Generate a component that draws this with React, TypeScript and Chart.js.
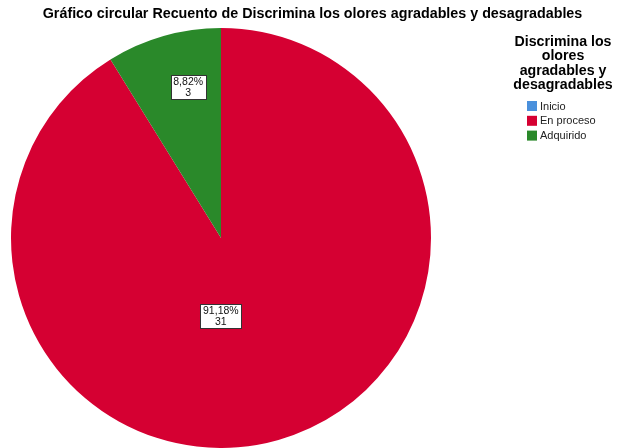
import React, { useEffect, useRef } from "react";
import { Chart, registerables } from "chart.js";

Chart.register(...registerables);

const TITLE = "Gráfico circular Recuento de Discrimina los olores agradables y desagradables";
const LEGEND_TITLE = ["Discrimina los", "olores", "agradables y", "desagradables"];
const categories = ["Inicio", "En proceso", "Adquirido"];
const counts = [0, 31, 3];
const colors = ["#4A90DC", "#D50032", "#2A892A"];
const labelRadiusFrac = [0.5, 0.37, 0.735];
const labelAngleShiftDeg = [0, 16, 3.6];

const FONT = "'Liberation Sans', Arial, sans-serif";

const overlayPlugin = {
  id: "overlay",
  afterDraw(chart: any) {
    const ctx = chart.ctx as CanvasRenderingContext2D;
    ctx.save();
    // Title
    ctx.fillStyle = "#000";
    ctx.font = `bold 14.3px ${FONT}`;
    ctx.textAlign = "center";
    ctx.textBaseline = "middle";
    ctx.fillText(TITLE, 312.5, 14);

    // Legend title
    ctx.font = `bold 14.2px ${FONT}`;
    LEGEND_TITLE.forEach((t, i) => ctx.fillText(t, 563, 42 + i * 14.5));

    // Legend items
    ctx.font = `11px ${FONT}`;
    ctx.textAlign = "left";
    categories.forEach((c, i) => {
      const y = 106 + i * 14.8;
      ctx.fillStyle = colors[i];
      ctx.fillRect(527, y - 5, 10, 10);
      ctx.fillStyle = "#222";
      ctx.fillText(c, 540, y + 0.5);
    });

    // Data labels
    const meta = chart.getDatasetMeta(0);
    const total = counts.reduce((a, b) => a + b, 0);
    meta.data.forEach((arc: any, i: number) => {
      if (!counts[i]) return;
      const p = arc.getProps(["x", "y", "startAngle", "endAngle", "outerRadius"], true);
      const mid = (p.startAngle + p.endAngle) / 2 + (labelAngleShiftDeg[i] * Math.PI) / 180;
      const r = p.outerRadius * labelRadiusFrac[i];
      const cx = p.x + Math.cos(mid) * r;
      const cy = p.y + Math.sin(mid) * r;
      const pct = ((counts[i] / total) * 100).toFixed(2).replace(".", ",") + "%";
      const lines = [pct, String(counts[i])];
      ctx.font = `10.5px ${FONT}`;
      const w = Math.round(Math.max(...lines.map((l) => ctx.measureText(l).width)) + 5);
      const h = 24;
      const bx = Math.round(cx - w / 2) + 0.5;
      const by = Math.round(cy - h / 2) + 0.5;
      ctx.fillStyle = "#fff";
      ctx.fillRect(bx, by, w, h);
      ctx.strokeStyle = "#333";
      ctx.lineWidth = 1;
      ctx.strokeRect(bx, by, w, h);
      ctx.fillStyle = "#111";
      ctx.textAlign = "center";
      ctx.textBaseline = "middle";
      ctx.fillText(lines[0], cx, cy - 5);
      ctx.fillText(lines[1], cx, cy + 6);
    });
    ctx.restore();
  },
};

export default function App() {
  const ref = useRef<HTMLCanvasElement>(null);
  useEffect(() => {
    if (!ref.current) return;
    const chart = new Chart(ref.current, {
      type: "pie",
      data: {
        labels: categories,
        datasets: [
          {
            data: counts,
            backgroundColor: colors,
            borderWidth: 0,
          },
        ],
      },
      options: {
        responsive: false,
        animation: false,
        layout: { padding: { left: 11, right: 186, top: 28, bottom: 0 } },
        plugins: {
          legend: { display: false },
          title: { display: false },
          tooltip: { enabled: false },
        },
      },
      plugins: [overlayPlugin],
    });
    return () => chart.destroy();
  }, []);
  return (
    <div style={{ position: "absolute", left: 0, top: 0, width: 617, height: 448, background: "#fff" }}>
      <canvas ref={ref} width={617} height={448} style={{ width: 617, height: 448, display: "block" }} />
    </div>
  );
}
